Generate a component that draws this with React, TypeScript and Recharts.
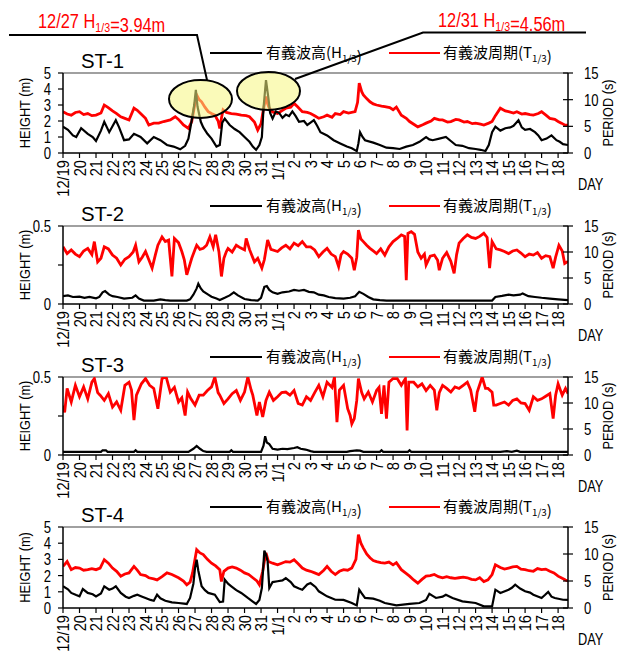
import { LineChart, Line, XAxis, YAxis, ReferenceLine } from 'recharts';

// day labels along the x axis (index = days since 12/19)
const dayLabels = [
  '12/19', '20', '21', '22', '23', '24', '25', '26', '27', '28', '29', '30', '31',
  '1/1', '2', '3', '4', '5', '6', '7', '8', '9', '10', '11', '12', '13', '14', '15', '16', '17', '18',
];
const dayTicks = dayLabels.map((_, i) => i);

// [day, value] pairs
const st1Height: [number, number][] = [
  [0, 1.65], [0.3, 1.45], [0.6, 1.1], [0.8, 1.0], [1.1, 1.55], [1.5, 1.2], [1.8, 1.0], [2.0, 0.75], [2.3, 1.4], [2.5, 1.95],
  [2.8, 1.3], [3.2, 2.05], [3.4, 1.6], [3.7, 0.8], [4.0, 0.85], [4.3, 1.2], [4.7, 1.0], [5.1, 0.6], [5.5, 1.0], [5.9, 0.8],
  [6.3, 0.5], [6.7, 0.4], [7.1, 0.23], [7.4, 0.45], [7.6, 0.9], [7.8, 2.05], [7.95, 3.0], [8.05, 3.94], [8.15, 2.9], [8.35, 1.95],
  [8.5, 1.6], [8.75, 1.2], [9.0, 0.9], [9.3, 0.4], [9.5, 0.5], [9.65, 1.9], [9.8, 2.15], [10.1, 1.75], [10.4, 1.5], [10.7, 1.3],
  [11.0, 1.0], [11.3, 0.7], [11.5, 0.4], [11.7, 0.2], [11.9, 0.5], [12.05, 1.0], [12.15, 2.8], [12.3, 4.56], [12.45, 3.4], [12.55, 2.5],
  [12.7, 2.15], [12.9, 2.6], [13.1, 2.5], [13.3, 2.2], [13.5, 2.4], [13.7, 2.3], [13.9, 2.6], [14.1, 2.3], [14.3, 1.95], [14.6, 2.0],
  [14.8, 1.75], [15.0, 1.9], [15.2, 2.05], [15.4, 1.7], [15.6, 1.3], [16.0, 1.1], [16.4, 0.8], [16.8, 0.6], [17.2, 0.4], [17.5, 0.3],
  [17.8, 0.12], [17.9, 0.6], [18.0, 1.3], [18.15, 1.0], [18.3, 0.8], [18.8, 0.65], [19.2, 0.5], [19.6, 0.33], [20.0, 0.3], [20.4, 0.25],
  [20.8, 0.4], [21.2, 0.5], [21.6, 0.7], [22.0, 1.0], [22.2, 0.85], [22.4, 0.8], [22.8, 0.9], [23.2, 1.0], [23.5, 0.75], [23.8, 0.5],
  [24.2, 0.45], [24.6, 0.3], [25.0, 0.25], [25.3, 0.2], [25.6, 0.12], [25.8, 0.5], [26.0, 1.3], [26.2, 1.65], [26.5, 1.4], [26.8, 1.55],
  [27.1, 1.6], [27.3, 1.7], [27.6, 2.05], [27.8, 1.6], [28.0, 1.45], [28.3, 1.5], [28.6, 1.3], [28.8, 1.1], [29.0, 0.8], [29.3, 0.9],
  [29.6, 1.1], [29.9, 0.8], [30.1, 0.7], [30.3, 0.55], [30.6, 0.5],
];
const st1Period: [number, number][] = [
  [0, 7.75], [0.25, 7.3], [0.5, 7.1], [0.75, 7.6], [1, 7.75], [1.25, 7.2], [1.5, 7.4], [1.75, 7.0], [2, 7.1], [2.3, 7.5],
  [2.5, 9.0], [2.7, 8.6], [3, 7.9], [3.25, 7.4], [3.5, 6.8], [3.75, 6.5], [4, 6.2], [4.3, 8.4], [4.5, 8.0], [4.7, 7.4],
  [5.0, 6.5], [5.2, 5.25], [5.5, 5.6], [5.8, 5.6], [6.1, 5.9], [6.5, 6.2], [6.8, 6.8], [7.0, 6.3], [7.3, 5.25], [7.6, 4.6],
  [7.8, 5.9], [7.95, 8.5], [8.1, 10.9], [8.25, 10.0], [8.4, 9.6], [8.6, 8.6], [8.8, 7.75], [9.0, 7.4], [9.2, 7.1], [9.4, 6.0],
  [9.5, 4.6], [9.6, 6.5], [9.7, 8.1], [9.9, 7.6], [10.2, 7.4], [10.5, 7.3], [10.8, 7.1], [11.1, 7.0], [11.3, 6.8], [11.6, 5.8],
  [11.8, 4.3], [12.0, 5.5], [12.1, 7.4], [12.3, 10.6], [12.4, 9.2], [12.5, 8.4], [12.7, 7.7], [13, 7.4], [13.3, 8.0], [13.5, 8.4],
  [13.8, 8.6], [14, 9.3], [14.2, 8.7], [14.5, 7.75], [14.8, 7.6], [15, 7.4], [15.3, 6.9], [15.5, 6.5], [15.8, 6.8], [16, 7.1],
  [16.3, 6.7], [16.5, 7.4], [16.8, 7.2], [17, 7.75], [17.3, 7.5], [17.7, 7.75], [17.85, 9.5], [17.95, 13.1], [18.1, 11.5], [18.2, 10.9],
  [18.4, 10.2], [18.6, 9.6], [18.8, 9.2], [19, 9.0], [19.3, 8.8], [19.5, 8.7], [19.8, 8.5], [20, 8.1], [20.2, 8.6], [20.5, 7.1],
  [20.8, 6.5], [21, 5.9], [21.3, 5.3], [21.5, 4.9], [21.8, 5.3], [22, 5.6], [22.3, 6.0], [22.5, 6.5], [22.8, 6.2], [23, 6.2],
  [23.3, 5.8], [23.5, 5.9], [23.8, 6.3], [24, 6.2], [24.3, 5.8], [24.5, 5.9], [24.8, 5.5], [25, 5.6], [25.3, 5.4], [25.5, 5.25],
  [25.8, 5.6], [26, 5.9], [26.2, 7.0], [26.5, 8.4], [26.8, 7.9], [27, 7.75], [27.3, 7.5], [27.5, 7.75], [27.8, 7.3], [28, 7.4],
  [28.3, 7.2], [28.5, 7.1], [28.8, 7.4], [29, 7.75], [29.3, 7.0], [29.5, 6.5], [29.8, 6.3], [30, 5.9], [30.2, 5.6], [30.4, 5.25],
  [30.6, 5.2],
];

const st2Height: [number, number][] = [
  [0, 0.05], [0.3, 0.055], [0.6, 0.045], [1, 0.047], [1.3, 0.04], [1.6, 0.045], [2, 0.036], [2.2, 0.045], [2.4, 0.075], [2.55, 0.083],
  [2.8, 0.06], [3, 0.05], [3.3, 0.045], [3.7, 0.035], [4.2, 0.04], [4.4, 0.055], [4.6, 0.035], [4.9, 0.022], [5.5, 0.022], [5.9, 0.03],
  [6.2, 0.025], [6.5, 0.022], [7.5, 0.022], [7.7, 0.03], [7.9, 0.06], [8.1, 0.1], [8.2, 0.13], [8.35, 0.1], [8.5, 0.08], [8.8, 0.06],
  [9, 0.047], [9.3, 0.035], [9.5, 0.026], [9.8, 0.04], [10.1, 0.055], [10.35, 0.075], [10.6, 0.055], [11, 0.032], [11.4, 0.025], [11.8, 0.022],
  [12, 0.04], [12.2, 0.11], [12.35, 0.115], [12.5, 0.09], [12.7, 0.075], [13, 0.065], [13.3, 0.075], [13.7, 0.08], [14, 0.09], [14.3, 0.085],
  [14.6, 0.09], [14.9, 0.078], [15.2, 0.075], [15.5, 0.06], [15.8, 0.055], [16.1, 0.045], [16.5, 0.038], [17, 0.035], [17.4, 0.04], [17.7, 0.05],
  [17.95, 0.078], [18.2, 0.065], [18.5, 0.045], [18.8, 0.03], [19.2, 0.025], [19.6, 0.022], [20, 0.022], [26, 0.022], [26.2, 0.045], [26.6, 0.052],
  [27, 0.06], [27.3, 0.055], [27.7, 0.06], [27.85, 0.068], [28.2, 0.05], [28.6, 0.045], [29, 0.04], [29.5, 0.035], [30, 0.03], [30.6, 0.025],
];
const st2Period: [number, number][] = [
  [0, 11.0], [0.25, 9.7], [0.5, 10.4], [0.75, 9.6], [1, 9.1], [1.25, 10.2], [1.5, 10.7], [1.75, 9.5], [1.9, 12.0], [2.1, 8.1],
  [2.3, 8.8], [2.5, 11.0], [2.75, 10.6], [3, 9.4], [3.25, 8.8], [3.5, 7.5], [3.75, 8.6], [4, 9.1], [4.25, 10.0], [4.4, 11.3],
  [4.6, 8.1], [4.8, 9.0], [5, 10.1], [5.2, 8.5], [5.4, 6.9], [5.6, 9.5], [5.75, 11.3], [6, 12.9], [6.2, 12.0], [6.4, 12.3],
  [6.6, 5.3], [6.75, 12.6], [7, 11.8], [7.2, 10.1], [7.35, 8.5], [7.5, 5.6], [7.65, 7.2], [7.8, 8.8], [8.0, 10.5], [8.1, 11.3],
  [8.3, 10.5], [8.5, 10.7], [8.7, 11.3], [8.9, 12.9], [9.1, 11.0], [9.25, 13.3], [9.45, 10.0], [9.6, 5.3], [9.75, 8.8], [9.9, 10.1],
  [10, 10.7], [10.25, 10.0], [10.5, 11.3], [10.75, 10.8], [11, 10.4], [11.1, 12.6], [11.3, 10.5], [11.6, 8.1], [11.8, 8.8], [12.05, 6.9],
  [12.2, 8.5], [12.4, 12.3], [12.6, 10.5], [13, 10.1], [13.25, 10.8], [13.5, 11.3], [13.75, 10.6], [14, 11.7], [14.25, 11.2], [14.5, 12.0],
  [14.75, 11.0], [15, 11.0], [15.25, 10.4], [15.5, 9.1], [15.75, 10.0], [16, 10.7], [16.25, 9.6], [16.5, 9.1], [16.7, 7.2], [16.85, 9.5],
  [17, 10.1], [17.25, 9.6], [17.5, 8.8], [17.65, 6.5], [17.8, 9.0], [17.9, 14.2], [18.05, 12.5], [18.2, 12.0], [18.4, 11.3], [18.6, 10.7],
  [18.8, 10.2], [19, 9.7], [19.25, 10.6], [19.5, 9.4], [19.75, 11.0], [20, 12.0], [20.25, 12.6], [20.5, 13.3], [20.7, 13.0], [20.8, 4.6],
  [20.9, 13.6], [21.1, 13.9], [21.3, 13.4], [21.5, 10.0], [21.7, 8.8], [21.9, 9.6], [22, 7.5], [22.25, 9.2], [22.5, 9.4], [22.7, 8.4],
  [22.8, 6.5], [23, 8.8], [23.25, 9.9], [23.5, 8.2], [23.7, 5.9], [23.85, 9.5], [24, 11.7], [24.25, 12.6], [24.5, 13.3], [24.75, 12.8],
  [25, 12.6], [25.25, 13.0], [25.5, 13.6], [25.7, 12.8], [25.85, 6.9], [26, 12.0], [26.25, 10.6], [26.5, 10.4], [26.75, 10.1], [27, 9.7],
  [27.25, 10.2], [27.5, 10.4], [27.75, 9.8], [28, 9.1], [28.25, 9.6], [28.5, 9.4], [28.75, 9.9], [29, 8.8], [29.25, 9.3], [29.5, 9.1],
  [29.7, 6.9], [29.85, 9.0], [30.05, 11.3], [30.25, 10.2], [30.4, 7.8], [30.6, 8.2],
];

const st3Height: [number, number][] = [
  [0, 0.02], [2.3, 0.02], [2.4, 0.03], [2.6, 0.03], [2.7, 0.02], [4.3, 0.02], [4.4, 0.03], [4.5, 0.02], [7.6, 0.02], [7.9, 0.04],
  [8.1, 0.058], [8.3, 0.04], [8.5, 0.025], [8.7, 0.02], [10.1, 0.02], [10.2, 0.03], [10.3, 0.02], [12.0, 0.02], [12.15, 0.06], [12.25, 0.12],
  [12.35, 0.08], [12.5, 0.07], [12.7, 0.04], [13, 0.035], [13.3, 0.04], [13.6, 0.038], [14, 0.045], [14.2, 0.05], [14.4, 0.04], [14.7, 0.035],
  [15, 0.025], [15.2, 0.02], [17.2, 0.02], [17.4, 0.025], [17.8, 0.03], [18, 0.028], [18.2, 0.02], [19.2, 0.02], [19.3, 0.03], [19.4, 0.02],
  [20.9, 0.02], [21, 0.03], [21.1, 0.02], [26.5, 0.02], [26.9, 0.025], [27.2, 0.02], [27.5, 0.028], [27.7, 0.02], [30.6, 0.02],
];
const st3Period: [number, number][] = [
  [0, 9.5], [0.1, 8.2], [0.25, 12.8], [0.5, 10.2], [0.75, 13.4], [1, 11.2], [1.25, 13.1], [1.5, 10.8], [1.75, 14.0], [1.9, 14.7],
  [2.1, 12.0], [2.25, 11.5], [2.5, 10.5], [2.75, 11.8], [3, 9.2], [3.25, 10.2], [3.5, 8.6], [3.75, 13.4], [4, 14.0], [4.15, 12.5],
  [4.3, 6.7], [4.45, 11.5], [4.75, 13.7], [5, 14.7], [5.25, 13.4], [5.5, 12.8], [5.75, 8.9], [6, 14.7], [6.25, 15.0], [6.5, 12.1],
  [6.75, 13.0], [7, 10.2], [7.2, 11.0], [7.4, 7.6], [7.55, 12.1], [7.75, 10.8], [8, 9.6], [8.25, 11.5], [8.5, 11.5], [8.75, 12.4],
  [9, 13.1], [9.2, 15.0], [9.4, 12.0], [9.5, 11.5], [9.75, 9.9], [10, 10.8], [10.25, 11.8], [10.5, 12.4], [10.75, 10.5], [11, 12.1],
  [11.2, 15.0], [11.4, 12.5], [11.5, 11.5], [11.75, 7.6], [11.9, 10.2], [12.1, 7.3], [12.3, 10.5], [12.5, 12.1], [12.75, 10.5], [13, 11.2],
  [13.25, 12.0], [13.5, 12.1], [13.75, 11.5], [14, 12.4], [14.25, 9.9], [14.5, 9.6], [14.75, 11.2], [15, 10.5], [15.25, 12.0], [15.5, 13.4],
  [15.75, 11.2], [16, 14.0], [16.3, 13.0], [16.45, 15.0], [16.6, 6.3], [16.75, 12.5], [17, 13.4], [17.25, 8.9], [17.4, 7.6], [17.5, 6.0],
  [17.65, 7.0], [17.8, 10.5], [17.9, 14.7], [18.1, 12.0], [18.25, 10.8], [18.5, 12.1], [18.75, 10.2], [19, 12.4], [19.15, 13.0], [19.3, 7.9],
  [19.45, 13.4], [19.6, 7.0], [19.75, 14.0], [20, 14.7], [20.25, 14.7], [20.5, 13.4], [20.75, 14.7], [20.85, 4.7], [20.95, 14.0], [21.25, 14.0],
  [21.5, 13.1], [21.75, 13.7], [22, 12.4], [22.25, 13.4], [22.5, 12.5], [22.65, 8.6], [22.8, 12.0], [23, 13.4], [23.25, 12.8], [23.5, 12.1],
  [23.75, 13.1], [24, 12.8], [24.25, 13.4], [24.5, 14.0], [24.7, 12.5], [24.95, 8.3], [25.1, 12.1], [25.4, 15.0], [25.6, 12.8], [25.75, 12.8],
  [26, 12.1], [26.1, 9.6], [26.25, 9.6], [26.5, 9.9], [26.75, 10.2], [27, 9.6], [27.25, 10.5], [27.5, 10.8], [27.75, 10.0], [28, 9.9],
  [28.25, 8.6], [28.5, 11.2], [28.75, 10.5], [29, 10.8], [29.25, 11.3], [29.5, 11.8], [29.7, 7.0], [29.85, 11.5], [30, 13.7], [30.25, 11.5],
  [30.45, 12.8], [30.6, 11.8],
];

const st4Height: [number, number][] = [
  [0, 1.34], [0.3, 1.15], [0.5, 0.93], [0.8, 0.8], [1, 0.72], [1.2, 1.17], [1.5, 0.93], [1.8, 0.85], [2, 0.72], [2.3, 0.9],
  [2.5, 1.34], [2.8, 1.13], [3.0, 1.2], [3.2, 1.34], [3.5, 0.93], [3.8, 0.7], [4, 0.62], [4.3, 0.75], [4.5, 0.82], [4.8, 0.7],
  [5, 0.62], [5.3, 0.5], [5.5, 0.45], [5.7, 0.82], [5.9, 0.6], [6.2, 0.45], [6.6, 0.35], [7, 0.31], [7.5, 0.25], [7.7, 0.62],
  [7.9, 1.5], [8.0, 2.47], [8.1, 2.98], [8.2, 2.3], [8.4, 1.34], [8.6, 1.1], [8.8, 0.93], [9.2, 0.82], [9.5, 0.37], [9.7, 0.4],
  [9.8, 1.75], [10, 1.5], [10.2, 1.34], [10.5, 1.1], [10.8, 0.93], [11.2, 0.62], [11.5, 0.4], [11.7, 0.25], [11.9, 0.5], [12.05, 1.23],
  [12.2, 3.54], [12.3, 3.3], [12.4, 2.88], [12.5, 1.23], [12.7, 1.6], [13, 1.65], [13.3, 1.7], [13.5, 1.85], [13.8, 1.6], [14, 1.34],
  [14.3, 1.2], [14.5, 1.13], [14.8, 1.45], [15, 1.54], [15.3, 1.3], [15.5, 1.03], [16, 0.72], [16.5, 0.51], [17, 0.5], [17.5, 0.31],
  [17.8, 0.16], [17.95, 1.13], [18.1, 0.9], [18.3, 0.62], [18.8, 0.58], [19.2, 0.45], [19.5, 0.31], [20.2, 0.16], [21, 0.25], [21.6, 0.31],
  [22, 0.5], [22.2, 0.88], [22.4, 0.75], [22.6, 0.62], [23, 0.7], [23.2, 0.82], [23.6, 0.62], [24.2, 0.41], [25, 0.31], [25.5, 0.1],
  [26, 0.1], [26.2, 1.13], [26.5, 0.93], [27, 1.13], [27.2, 1.25], [27.4, 1.44], [27.7, 1.2], [28, 1.03], [28.3, 0.95], [28.5, 0.82],
  [29, 0.62], [29.2, 0.8], [29.4, 0.99], [29.6, 0.7], [29.8, 0.62], [30.3, 0.51], [30.6, 0.5],
];
const st4Period: [number, number][] = [
  [0, 7.7], [0.25, 8.6], [0.5, 7.1], [0.75, 7.5], [1, 7.4], [1.25, 7.0], [1.5, 7.1], [1.75, 7.3], [2, 7.1], [2.25, 7.4],
  [2.5, 8.95], [2.75, 8.3], [3, 7.4], [3.25, 6.8], [3.5, 5.9], [3.75, 6.3], [4, 6.5], [4.3, 7.7], [4.5, 7.0], [4.7, 6.2],
  [5, 6.0], [5.2, 5.6], [5.5, 5.4], [5.7, 5.2], [6, 5.8], [6.3, 6.5], [6.6, 6.2], [7, 5.6], [7.3, 5.0], [7.5, 4.3],
  [7.7, 4.8], [7.85, 6.5], [8.1, 10.8], [8.3, 10.2], [8.5, 9.9], [8.75, 9.0], [9, 8.3], [9.25, 7.8], [9.5, 7.1], [9.6, 4.9],
  [9.75, 6.8], [10, 7.4], [10.25, 7.6], [10.5, 7.4], [10.75, 7.0], [11, 6.5], [11.25, 6.2], [11.5, 5.6], [11.75, 5.0], [11.9, 4.3],
  [12.1, 6.8], [12.2, 8.6], [12.3, 10.2], [12.45, 8.6], [12.7, 8.3], [13, 8.0], [13.25, 8.3], [13.5, 8.6], [13.75, 8.5], [14, 8.95],
  [14.25, 8.2], [14.5, 7.4], [14.75, 7.0], [15, 6.8], [15.25, 6.5], [15.5, 6.2], [15.8, 7.0], [16, 7.7], [16.25, 6.8], [16.5, 6.2],
  [16.75, 6.8], [17, 7.1], [17.25, 7.0], [17.5, 7.4], [17.75, 9.0], [17.9, 13.6], [18.05, 12.0], [18.2, 11.1], [18.4, 10.0], [18.6, 9.3],
  [18.8, 8.8], [19, 8.6], [19.25, 8.4], [19.5, 8.3], [19.75, 8.5], [20, 8.0], [20.2, 8.4], [20.5, 7.1], [20.75, 6.5], [21, 5.9],
  [21.25, 5.2], [21.5, 4.6], [21.75, 5.3], [22, 5.9], [22.25, 6.0], [22.5, 6.2], [22.75, 5.8], [23, 5.6], [23.25, 5.8], [23.5, 5.6],
  [23.75, 5.5], [24, 5.6], [24.25, 5.7], [24.5, 5.6], [24.75, 5.3], [25, 5.2], [25.25, 5.6], [25.5, 4.9], [25.75, 5.2], [26, 6.2],
  [26.2, 8.0], [26.5, 7.5], [26.75, 7.2], [27, 7.4], [27.25, 7.6], [27.5, 7.7], [27.75, 7.2], [28, 7.1], [28.25, 6.9], [28.5, 6.8],
  [28.75, 7.3], [29, 7.1], [29.25, 7.2], [29.5, 6.8], [29.75, 6.5], [30, 5.9], [30.25, 5.5], [30.45, 5.2], [30.6, 5.0],
];

const periodTicks = [0, 5, 10, 15];
const heightTicksBig = [0, 1, 2, 3, 4, 5];
const heightTicksSmall = [0, 0.25, 0.5];

const LAT = "'Liberation Sans', Arial, sans-serif";
const CJK = "'Noto Sans CJK JP', 'Noto Sans', sans-serif";

const toRows = (pairs: [number, number][]) => pairs.map(([t, v]) => ({ t, v }));

const panels = [
  { title: 'ST-1', top: 73, ph: 80, hMax: 5, hTicks: heightTicksBig, h: st1Height, p: st1Period },
  { title: 'ST-2', top: 226, ph: 78, hMax: 0.5, hTicks: heightTicksSmall, h: st2Height, p: st2Period },
  { title: 'ST-3', top: 377, ph: 78, hMax: 0.5, hTicks: heightTicksSmall, h: st3Height, p: st3Period },
  { title: 'ST-4', top: 527, ph: 81, hMax: 5, hTicks: heightTicksBig, h: st4Height, p: st4Period },
];

const PLOT_L = 63;
const PLOT_R = 568;
const M_TOP = 15;
const X_H = 58;

// condensed text: squeeze glyphs horizontally like the narrow Gothic face of the original
const CText = ({ x, y, rot, sx = 0.8, size = 16, anchor = 'start', fill = '#000', children }: any) => (
  <text
    transform={`translate(${x},${y})${rot ? ` rotate(${rot})` : ''} scale(${sx},1)`}
    textAnchor={anchor}
    fontSize={size}
    fontFamily={LAT}
    fill={fill}
  >
    {children}
  </text>
);

const LeftTick = ({ x, y, payload }: any) => {
  const v = payload.value;
  const label = v === 0.25 ? '' : v === 0.5 ? '0.5' : String(v);
  return (
    <g>
      <line x1={x - 5} x2={x} y1={y} y2={y} stroke="#000" strokeWidth={1.2} />
      <CText x={x - 12} y={y + 6} size={16} sx={0.82} anchor="end">{label}</CText>
    </g>
  );
};

const RightTick = ({ x, y, payload }: any) => (
  <g>
    <line x1={x - 5} x2={x + 5} y1={y} y2={y} stroke="#000" strokeWidth={1.2} />
    <CText x={x + 16} y={y + 6} size={16} sx={0.82}>{payload.value}</CText>
  </g>
);

const DayTick = ({ x, y, payload }: any) => (
  <g>
    <line x1={x} x2={x} y1={y} y2={y + 5} stroke="#000" strokeWidth={1.2} />
    <CText x={x + 6} y={y + 7} rot={-90} size={16} sx={0.92} anchor="end">{dayLabels[payload.value]}</CText>
  </g>
);

const Panel = ({ cfg }: { cfg: (typeof panels)[number] }) => (
  <div style={{ position: 'absolute', left: 0, top: cfg.top - M_TOP }}>
    <LineChart width={627} height={M_TOP + cfg.ph + X_H} margin={{ top: M_TOP, right: 0, bottom: 0, left: 0 }}>
      <XAxis
        type="number"
        dataKey="t"
        domain={[0, 30.6]}
        ticks={dayTicks}
        interval={0}
        allowDataOverflow
        height={X_H}
        tickSize={0}
        tickMargin={0}
        tickLine={false}
        axisLine={{ stroke: '#000', strokeWidth: 1.5 }}
        tick={DayTick}
      />
      <YAxis
        yAxisId="h"
        domain={[0, cfg.hMax]}
        ticks={cfg.hTicks}
        interval={0}
        allowDataOverflow
        width={PLOT_L}
        tickSize={0}
        tickMargin={0}
        tickLine={false}
        axisLine={{ stroke: '#000', strokeWidth: 1.5 }}
        tick={LeftTick}
      />
      <YAxis
        yAxisId="p"
        orientation="right"
        domain={[0, 15]}
        ticks={periodTicks}
        interval={0}
        allowDataOverflow
        width={627 - PLOT_R}
        tickSize={0}
        tickMargin={0}
        tickLine={false}
        axisLine={{ stroke: '#000', strokeWidth: 1.5 }}
        tick={RightTick}
      />
      <ReferenceLine yAxisId="h" y={cfg.hMax} stroke="#a0a0a0" strokeWidth={2} />
      <Line
        yAxisId="p"
        data={toRows(cfg.p)}
        dataKey="v"
        type="linear"
        stroke="#ff0000"
        strokeWidth={2.8}
        dot={false}
        isAnimationActive={false}
      />
      <Line
        yAxisId="h"
        data={toRows(cfg.h)}
        dataKey="v"
        type="linear"
        stroke="#000"
        strokeWidth={2.2}
        dot={false}
        isAnimationActive={false}
      />
    </LineChart>
  </div>
);

const Sub = ({ children }: { children: string }) => (
  <>
    <tspan fontSize="0.65em" dy={4}>{children}</tspan>
    <tspan dy={-4}></tspan>
  </>
);

const Overlay = () => (
  <svg width={627} height={662} style={{ position: 'absolute', left: 0, top: 0, pointerEvents: 'none' }}>
    {panels.map((cfg) => {
      const bottom = cfg.top + cfg.ph;
      const mid = cfg.top + cfg.ph / 2;
      const ly = cfg.top - 20;
      return (
        <g key={cfg.title}>
          <text x={81} y={cfg.top - 5} fontSize={21} fontFamily={LAT} textLength={43} lengthAdjust="spacingAndGlyphs">{cfg.title}</text>
          <line x1={210} x2={262} y1={ly} y2={ly} stroke="#000" strokeWidth={2} />
          <text x={266} y={ly + 5} fontSize={15} fontFamily={CJK} fill="#000">
            有義波高(H<Sub>1/3</Sub>)
          </text>
          <line x1={389} x2={440} y1={ly} y2={ly} stroke="#ff0000" strokeWidth={2} />
          <text x={443} y={ly + 5} fontSize={15} fontFamily={CJK} fill="#000">
            有義波周期(T<Sub>1/3</Sub>)
          </text>
          <CText x={578} y={bottom + 37} size={16} sx={0.8}>DAY</CText>
          <CText x={30} y={mid} rot={-90} size={15} sx={0.85} anchor="middle">HEIGHT (m)</CText>
          <CText x={613} y={mid} rot={-90} size={15} sx={0.85} anchor="middle">PERIOD (s)</CText>
        </g>
      );
    })}
    {/* peak call-outs on ST-1 */}
    <polyline points="9,35 197,35 207,80" fill="none" stroke="#000" strokeWidth={2} />
    <polyline points="586,32.5 423,32.5 295,79" fill="none" stroke="#000" strokeWidth={2} />
    <ellipse cx={200.5} cy={99} rx={31.5} ry={19} fill="#f5f580" fillOpacity={0.55} stroke="#000" strokeWidth={2} />
    <ellipse cx={268.5} cy={91} rx={31.5} ry={19} fill="#f5f580" fillOpacity={0.55} stroke="#000" strokeWidth={2} />
    <CText x={38} y={28} size={21} sx={0.78} fill="#ff0000">
      12/27 H<Sub>1/3</Sub>=3.94m
    </CText>
    <CText x={438} y={27} size={21} sx={0.78} fill="#ff0000">
      12/31 H<Sub>1/3</Sub>=4.56m
    </CText>
  </svg>
);

export default function App() {
  return (
    <div style={{ position: 'absolute', left: 0, top: 0, width: 627, height: 662, background: '#fff', overflow: 'hidden' }}>
      {panels.map((cfg) => (
        <Panel key={cfg.title} cfg={cfg} />
      ))}
      <Overlay />
    </div>
  );
}
